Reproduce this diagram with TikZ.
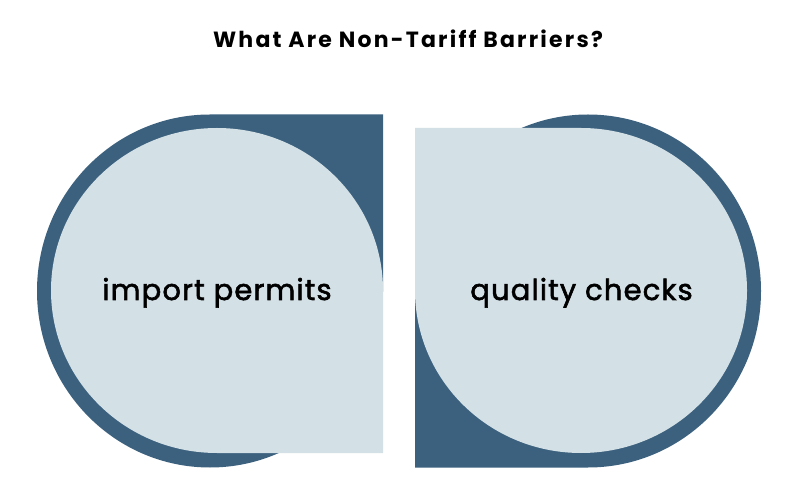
\documentclass[tikz,border=0pt]{standalone}
\usepackage{fontspec}
\setmainfont{Poppins}
\newfontfamily\labelfont[FakeBold=2,LetterSpace=4]{Poppins}
\newfontfamily\titlefont[LetterSpace=10]{Poppins}
\definecolor{darkblue}{RGB}{60,97,126}
\definecolor{lightblue}{RGB}{211,224,230}
\begin{document}
\begin{tikzpicture}[x=1pt,y=1pt,
  darkshape/.style={fill=darkblue,draw=none},
  lightshape/.style={fill=lightblue,draw=none},
  label/.style={inner sep=0pt,anchor=base,font=\labelfont\fontsize{29}{33}\selectfont,text=black},
  titletext/.style={inner sep=0pt,anchor=base,font=\titlefont\fontsize{22}{26}\selectfont\bfseries,text=black}]
\useasboundingbox[fill=white] (0,0) rectangle (799,503);
% left pair
\path[darkshape] (383,388.5) -- (383,212)
  arc[start angle=0,end angle=-90,x radius=173pt,y radius=176.5pt]
  arc[start angle=-90,end angle=-180,x radius=173pt,y radius=176.5pt]
  arc[start angle=180,end angle=90,x radius=173pt,y radius=176.5pt] -- cycle;
\path[lightshape] (383,50) -- (217,50)
  arc[start angle=-90,end angle=-180,x radius=166pt,y radius=162.5pt]
  arc[start angle=180,end angle=90,x radius=166pt,y radius=162.5pt]
  arc[start angle=90,end angle=0,x radius=166pt,y radius=162.5pt] -- cycle;
% right pair
\path[darkshape] (415,35.5) -- (415,212)
  arc[start angle=180,end angle=90,x radius=173pt,y radius=176.5pt]
  arc[start angle=90,end angle=0,x radius=173pt,y radius=176.5pt]
  arc[start angle=0,end angle=-90,x radius=173pt,y radius=176.5pt] -- cycle;
\path[lightshape] (415,375) -- (581,375)
  arc[start angle=90,end angle=0,x radius=166pt,y radius=162.5pt]
  arc[start angle=0,end angle=-90,x radius=166pt,y radius=162.5pt]
  arc[start angle=-90,end angle=-180,x radius=166pt,y radius=162.5pt] -- cycle;
\node[titletext] (title) at (408,455) {What Are Non-Tariff Barriers?};
\node[label] (permits) at (217,203) {import permits};
\node[label] (checks) at (581.5,203) {quality checks};
\end{tikzpicture}
\end{document}
